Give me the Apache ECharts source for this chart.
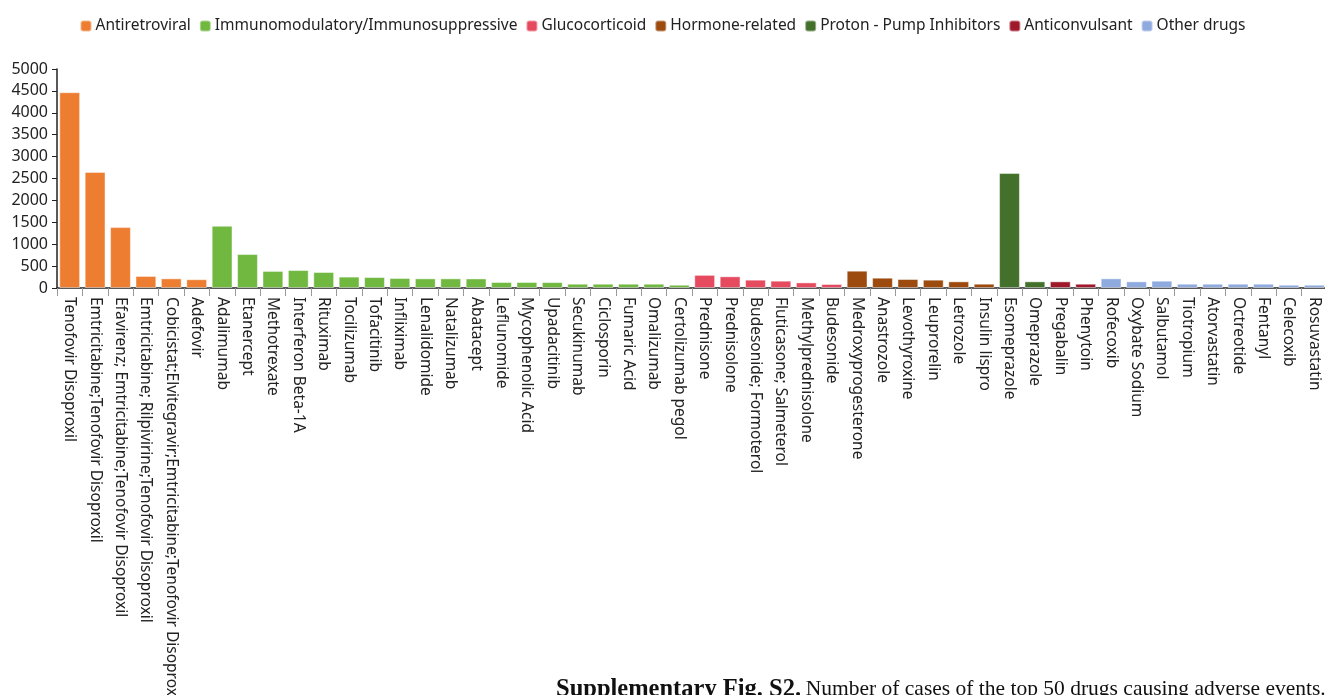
<!DOCTYPE html>
<html>
<head>
<meta charset="utf-8">
<script src="https://cdn.jsdelivr.net/npm/echarts@6/dist/echarts.min.js"></script>
<style>
  html, body { margin: 0; padding: 0; background: #fff; }
  #chart { width: 1325px; height: 695px; }
</style>
</head>
<body>
<div id="chart"></div>
<script>
// drug names, in the order they appear on the x axis
var drugs = [
  'Tenofovir Disoproxil', 'Emtricitabine;Tenofovir Disoproxil',
  'Efavirenz; Emtricitabine;Tenofovir Disoproxil', 'Emtricitabine; Rilpivirine;Tenofovir Disoproxil',
  'Cobicistat;Elvitegravir;Emtricitabine;Tenofovir Disoproxil', 'Adefovir',
  'Adalimumab', 'Etanercept', 'Methotrexate', 'Interferon Beta-1A', 'Rituximab', 'Tocilizumab',
  'Tofacitinib', 'Infliximab', 'Lenalidomide', 'Natalizumab', 'Abatacept', 'Leflunomide',
  'Mycophenolic Acid', 'Upadacitinib', 'Secukinumab', 'Ciclosporin', 'Fumaric Acid', 'Omalizumab',
  'Certolizumab pegol',
  'Prednisone', 'Prednisolone', 'Budesonide; Formoterol', 'Fluticasone; Salmeterol',
  'Methylprednisolone', 'Budesonide',
  'Medroxyprogesterone', 'Anastrozole', 'Levothyroxine', 'Leuprorelin', 'Letrozole', 'Insulin lispro',
  'Esomeprazole', 'Omeprazole',
  'Pregabalin', 'Phenytoin',
  'Rofecoxib', 'Oxybate Sodium', 'Salbutamol', 'Tiotropium', 'Atorvastatin', 'Octreotide',
  'Fentanyl', 'Celecoxib', 'Rosuvastatin'
];

// number of cases per drug
var cases = [
  4470, 2650, 1390, 275, 220, 200,
  1420, 775, 390, 410, 365, 260,
  250, 228, 220, 220, 218, 137,
  137, 135, 98, 98, 98, 98,
  75,
  300, 267, 190, 167, 128, 92,
  395, 235, 205, 190, 152, 98,
  2625, 152,
  152, 98,
  221, 152, 167, 98, 98, 98,
  98, 75, 75
];

// drug class of each drug (index into groups)
var drugGroup = [
  0, 0, 0, 0, 0, 0,
  1, 1, 1, 1, 1, 1, 1, 1, 1, 1, 1, 1, 1, 1, 1, 1, 1, 1, 1,
  2, 2, 2, 2, 2, 2,
  3, 3, 3, 3, 3, 3,
  4, 4,
  5, 5,
  6, 6, 6, 6, 6, 6, 6, 6, 6
];

var groups = ['Antiretroviral', 'Immunomodulatory/Immunosuppressive', 'Glucocorticoid',
  'Hormone-related', 'Proton - Pump Inhibitors', 'Anticonvulsant', 'Other drugs'];
var groupColors = ['#ED7D31', '#70B840', '#E64A5E', '#9C4A0E', '#43702A', '#A0192A', '#8EAADF'];

var chart = echarts.init(document.getElementById('chart'));

var series = groups.map(function (g, gi) {
  return {
    name: g,
    type: 'bar',
    stack: 'all',
    barCategoryGap: '18%',
    itemStyle: { color: groupColors[gi], borderColor: 'rgba(255,255,255,0.45)', borderWidth: 1 },
    data: cases.map(function (v, i) { return drugGroup[i] === gi ? v : null; })
  };
});

var option = {
  animation: false,
  textStyle: { fontFamily: 'Noto Sans' },
  title: {
    left: 551,
    top: 672,
    text: '{b|Supplementary Fig. S2.} {n|Number of cases of the top 50 drugs causing adverse events.}',
    textStyle: {
      fontWeight: 'normal',
      rich: {
        b: { fontFamily: 'Liberation Serif', fontWeight: 'bold', fontSize: 24.5, color: '#111' },
        n: { fontFamily: 'Liberation Serif', fontWeight: 'normal', fontSize: 21.5, color: '#111' }
      }
    }
  },
  legend: {
    top: 13,
    left: 'center',
    itemWidth: 11,
    itemHeight: 11,
    itemGap: 8,
    textStyle: { fontSize: 15.5, color: '#222', padding: [0, 0, 0, -1] },
    data: groups
  },
  grid: { left: 57, right: -2, top: 69, bottom: 407, containLabel: false, outerBoundsMode: 'none' },
  xAxis: {
    type: 'category',
    data: drugs,
    axisLine: { lineStyle: { color: '#222', width: 1.5 } },
    axisTick: { show: true, length: 8, lineStyle: { color: '#999' } },
    axisLabel: { interval: 0, rotate: -90, fontSize: 15.5, color: '#222', margin: 9 }
  },
  yAxis: {
    type: 'value',
    min: 0,
    max: 5000,
    interval: 500,
    splitLine: { show: false },
    axisLine: { show: true, lineStyle: { color: '#222', width: 1.5 } },
    axisTick: { show: true, length: 5, lineStyle: { color: '#222' } },
    axisLabel: { fontSize: 16, color: '#222', margin: 9, formatter: function (v) { return String(v); } }
  },
  series: series
};

chart.setOption(option);
</script>
</body>
</html>
